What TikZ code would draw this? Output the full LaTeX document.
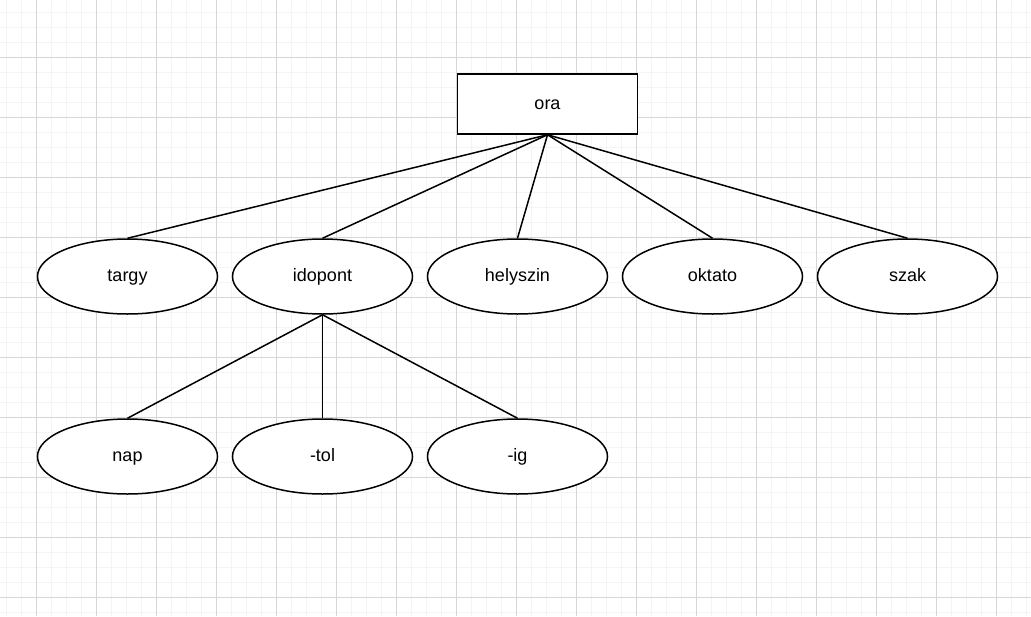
\documentclass[tikz,border=0pt]{standalone}
\usepackage{fontspec}
\setmainfont{Liberation Sans}
\usetikzlibrary{shapes.geometric}
\definecolor{gridminor}{HTML}{F4F4F4}
\definecolor{gridmajor}{HTML}{D6D6D6}
\tikzset{
  lbl/.style={font=\fontsize{18}{22}\selectfont, text height=13pt, text depth=3pt},
  entity/.style={lbl, draw=black, line width=1.5pt, fill=white, rectangle, minimum width=180pt, minimum height=60pt, inner sep=0pt},
  attr/.style={lbl, draw=black, line width=1.5pt, fill=white, ellipse, minimum width=180pt, minimum height=75pt, inner sep=0pt},
  link/.style={draw=black, line width=1.5pt}
}
\begin{document}
\begin{tikzpicture}[x=1pt,y=-1pt]
\useasboundingbox (0,0) rectangle (1031,616);
\fill[white] (0,0) rectangle (1031,616);
% grid
\foreach \i in {0,...,68} {
  \draw[gridminor, line width=1pt] ({6.3+15*\i},0) -- ({6.3+15*\i},616);
}
\foreach \j in {0,...,41} {
  \draw[gridminor, line width=1pt] (0,{12.7+15*\j}) -- (1031,{12.7+15*\j});
}
\foreach \i in {0,...,16} {
  \draw[gridmajor, line width=1pt] ({36.3+60*\i},0) -- ({36.3+60*\i},616);
}
\foreach \j in {0,...,9} {
  \draw[gridmajor, line width=1pt] (0,{57.7+60*\j}) -- (1031,{57.7+60*\j});
}
% nodes
\node[entity] (ora) at (547.5,104) {ora};
\node[attr] (targy) at (127.5,276.5) {targy};
\node[attr] (idopont) at (322.5,276.5) {idopont};
\node[attr] (helyszin) at (517.5,276.5) {helyszin};
\node[attr] (oktato) at (712.5,276.5) {oktato};
\node[attr] (szak) at (907.5,276.5) {szak};
\node[attr] (nap) at (127.5,456.5) {nap};
\node[attr] (tol) at (322.5,456.5) {-tol};
\node[attr] (ig) at (517.5,456.5) {-ig};
% links
\foreach \t in {targy,idopont,helyszin,oktato,szak} {
  \draw[link] (ora.south) -- (\t.north);
}
\foreach \t in {nap,tol,ig} {
  \draw[link] (idopont.south) -- (\t.north);
}
\end{tikzpicture}
\end{document}
